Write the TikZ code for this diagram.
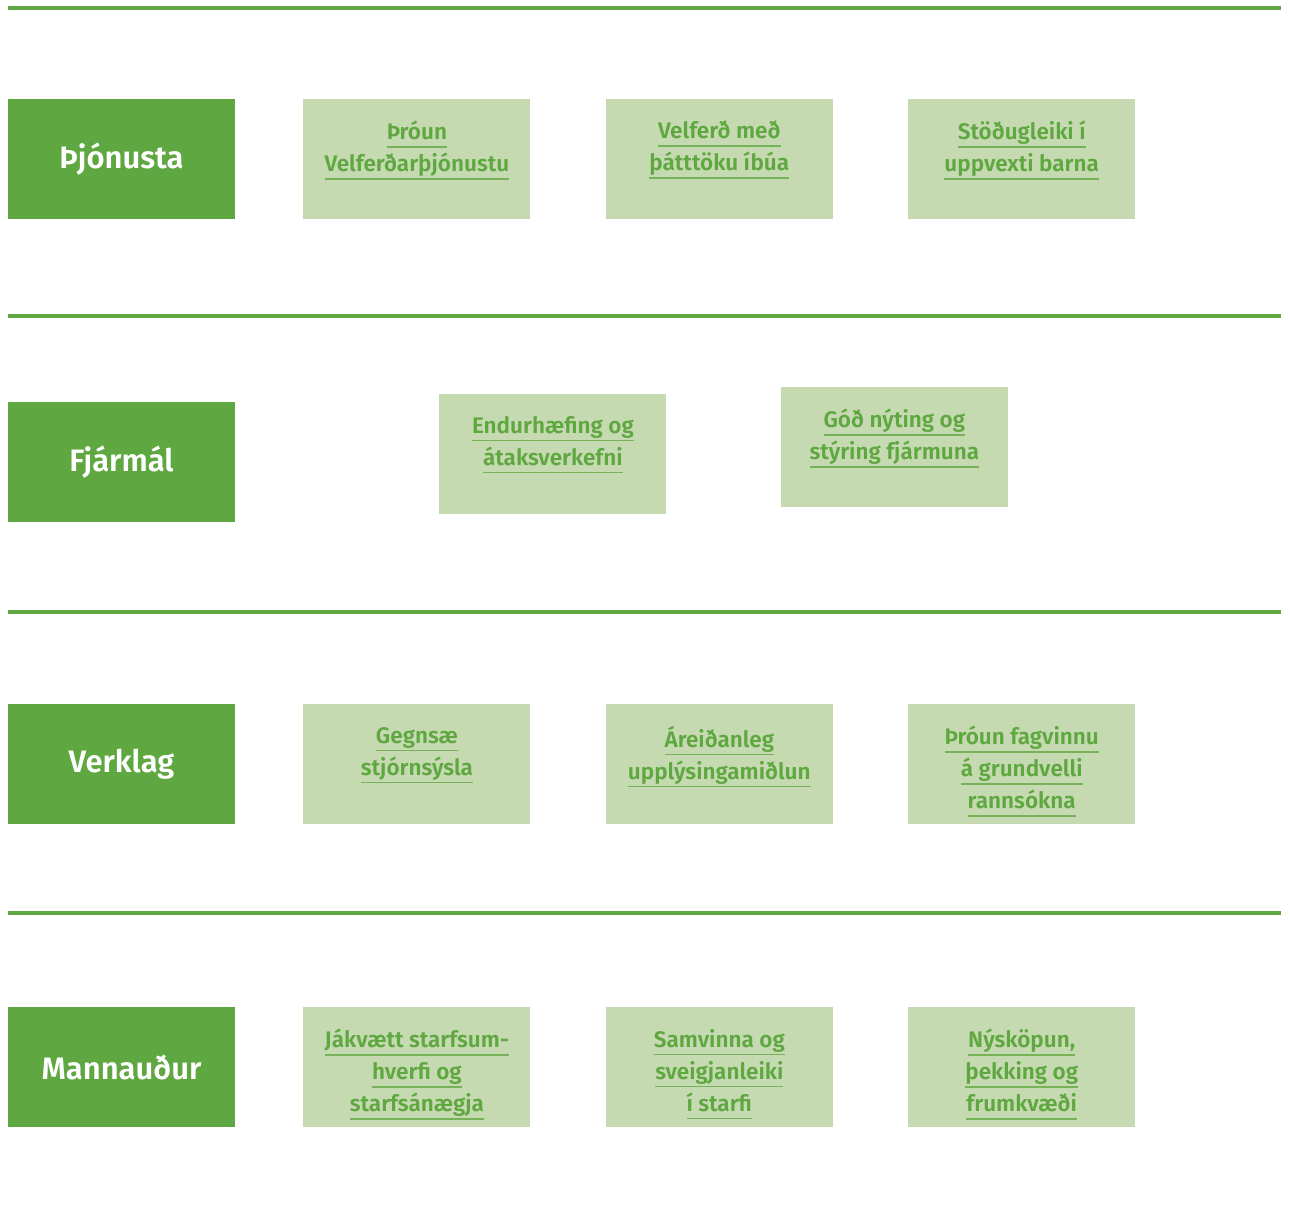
\documentclass[tikz,border=0pt]{standalone}
\usepackage{fontspec}
\IfFontExistsTF{Fira Sans SemiBold}{\setmainfont{Fira Sans}[BoldFont={Fira Sans SemiBold}]}{\setmainfont{Fira Sans}}
\usetikzlibrary{positioning}
\definecolor{fgreen}{RGB}{95,167,64}
\definecolor{lgreen}{RGB}{197,218,176}
\definecolor{ulgreen}{RGB}{118,178,88}
\newcommand\lnk[1]{\setbox0\hbox{#1}\rlap{\color{ulgreen}\rule[-8pt]{\wd0}{1.5pt}}\rule{0pt}{17pt}\box0}

\begin{document}
\begin{tikzpicture}[x=1pt, y=-1pt, node distance=68pt,
    area/.style={rectangle, fill=fgreen, text=white, font=\fontsize{31}{36}\selectfont\bfseries, minimum width=227pt, minimum height=120pt, inner sep=0pt},
    goal/.style={rectangle, fill=lgreen, minimum width=227pt, minimum height=120pt, inner sep=0pt},
    goaltext/.style={text=fgreen, font=\fontsize{22.5}{32}\selectfont\bfseries, align=center, inner sep=0pt},
    sep/.style={draw=fgreen, line width=4pt}]
    \useasboundingbox (0,0) rectangle (1290,1207);
    \draw[sep] (8,8) -- (1281,8);
    \draw[sep] (8,316) -- (1281,316);
    \draw[sep] (8,612) -- (1281,612);
    \draw[sep] (8,913) -- (1281,913);

    \node [area] (pj) at (121.5,159) {Þjónusta};
    \node [goal, right=68pt of pj] (pj1) {};
    \node [goal, right=75pt of pj1] (pj2) {};
    \node [goal, right=75pt of pj2] (pj3) {};
    \node [goaltext, below=22pt of pj1.north] (pj1t) {\lnk{Þróun}\\\lnk{Velferðarþjónustu}};
    \node [goaltext, below=22pt of pj2.north] (pj2t) {\lnk{Velferð með}\\\lnk{þátttöku íbúa}};
    \node [goaltext, below=22pt of pj3.north] (pj3t) {\lnk{Stöðugleiki í}\\\lnk{uppvexti barna}};

    \node [area] (fj) at (121.5,462) {Fjármál};
    \node [goal, right=204pt of fj, yshift=8pt] (fj1) {};
    \node [goal, right=114pt of fj1, yshift=7pt] (fj2) {};
    \node [goaltext, below=22pt of fj1.north] (fj1t) {\lnk{Endurhæfing og}\\\lnk{átaksverkefni}};
    \node [goaltext, below=22pt of fj2.north] (fj2t) {\lnk{Góð nýting og}\\\lnk{stýring fjármuna}};

    \node [area] (vk) at (121.5,764) {Verklag};
    \node [goal, right=68pt of vk] (vk1) {};
    \node [goal, right=75pt of vk1] (vk2) {};
    \node [goal, right=75pt of vk2] (vk3) {};
    \node [goaltext, below=22pt of vk1.north] (vk1t) {\lnk{Gegnsæ}\\\lnk{stjórnsýsla}};
    \node [goaltext, below=22pt of vk2.north] (vk2t) {\lnk{Áreiðanleg}\\\lnk{upplýsingamiðlun}};
    \node [goaltext, below=22pt of vk3.north] (vk3t) {\lnk{Þróun fagvinnu}\\\lnk{á grundvelli}\\\lnk{rannsókna}};

    \node [area] (mn) at (121.5,1067) {Mannauður};
    \node [goal, right=68pt of mn] (mn1) {};
    \node [goal, right=75pt of mn1] (mn2) {};
    \node [goal, right=75pt of mn2] (mn3) {};
    \node [goaltext, below=22pt of mn1.north] (mn1t) {\lnk{Jákvætt starfsum-}\\\lnk{hverfi og}\\\lnk{starfsánægja}};
    \node [goaltext, below=22pt of mn2.north] (mn2t) {\lnk{Samvinna og}\\\lnk{sveigjanleiki}\\\lnk{í starfi}};
    \node [goaltext, below=22pt of mn3.north] (mn3t) {\lnk{Nýsköpun,}\\\lnk{þekking og}\\\lnk{frumkvæði}};
\end{tikzpicture}
\end{document}
